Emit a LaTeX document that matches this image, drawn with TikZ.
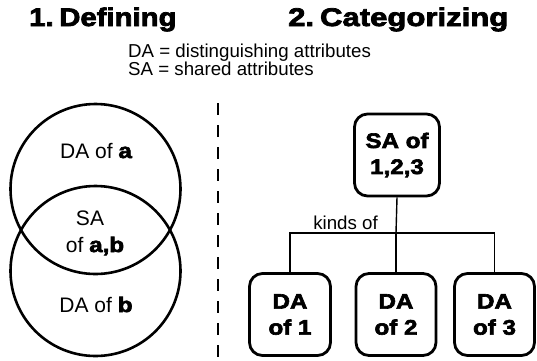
\documentclass[tikz,border=0pt]{standalone}
\usepackage{fontspec}
\usepackage{graphicx}
\setmainfont{Liberation Sans}
\newfontfamily\heavy{Liberation Sans}[BoldFeatures={FakeBold=3,FakeStretch=1.15}]
\tikzset{
  txt/.style={inner sep=0pt, anchor=base},
  reg/.style={font=\fontsize{18.7}{20}\selectfont},
  ctext/.style={txt, font=\fontsize{21}{24}\selectfont},
  title/.style={inner sep=0pt, anchor=base west, font=\heavy\bfseries\fontsize{25.5}{28}\selectfont},
  venn/.style={circle, draw, line width=2.6pt, minimum size=170pt, inner sep=0pt},
  catbox/.style={draw, line width=2.8pt, rounded corners=13pt, minimum height=82pt,
    align=center, inner sep=0pt, font=\heavy\bfseries\fontsize{21}{26}\selectfont},
  treeline/.style={line width=1.4pt},
}
\begin{document}
\begin{tikzpicture}[x=1pt,y=-1pt]
\useasboundingbox (0,0) rectangle (537,360);
% titles
\node[title] (t1) at (29,26) {1.\hspace{0.22em}Defining};
\node[title] (t2) at (288,26) {\scalebox{1.06}[1]{2.\hspace{0.22em}Categorizing}};
\node[txt, reg, anchor=base west] (s1) at (128,57) {DA = distinguishing attributes};
\node[txt, reg, anchor=base west] (s2) at (128,75) {SA = shared attributes};
% Venn
\node[venn] (ca) at (95.5,189) {};
\node[venn] (cb) at (95.5,271) {};
\node[ctext] (la) at (96,158) {DA of {\heavy\bfseries a}};
\node[ctext] (lsa) at (90,225) {SA};
\node[ctext] (lab) at (95,252) {of {\heavy\bfseries a,b}};
\node[ctext] (lb) at (96,312) {DA of {\heavy\bfseries b}};
% divider
\coordinate (dt) at (218,103);
\coordinate (db) at (218,362);
\draw[line width=1.8pt, dash pattern=on 12pt off 10pt] (dt) -- (db);
% tree
\node[catbox, minimum width=85pt] (sa) at (397,155) {SA of\\1,2,3};
\node[catbox, minimum width=81pt] (d1) at (290,314.5) {DA\\of 1};
\node[catbox, minimum width=80pt] (d2) at (396,314.5) {DA\\of 2};
\node[catbox, minimum width=80pt] (d3) at (494.5,314.5) {DA\\of 3};
\coordinate (j) at (396,233);
\draw[treeline] (sa.south) -- (j);
\draw[treeline] (d1.north) |- (j) -| (d3.north);
\draw[treeline] (j) -- (d2.north);
\node[txt, reg] (ko) at (345.5,229) {kinds of};
\end{tikzpicture}
\end{document}
